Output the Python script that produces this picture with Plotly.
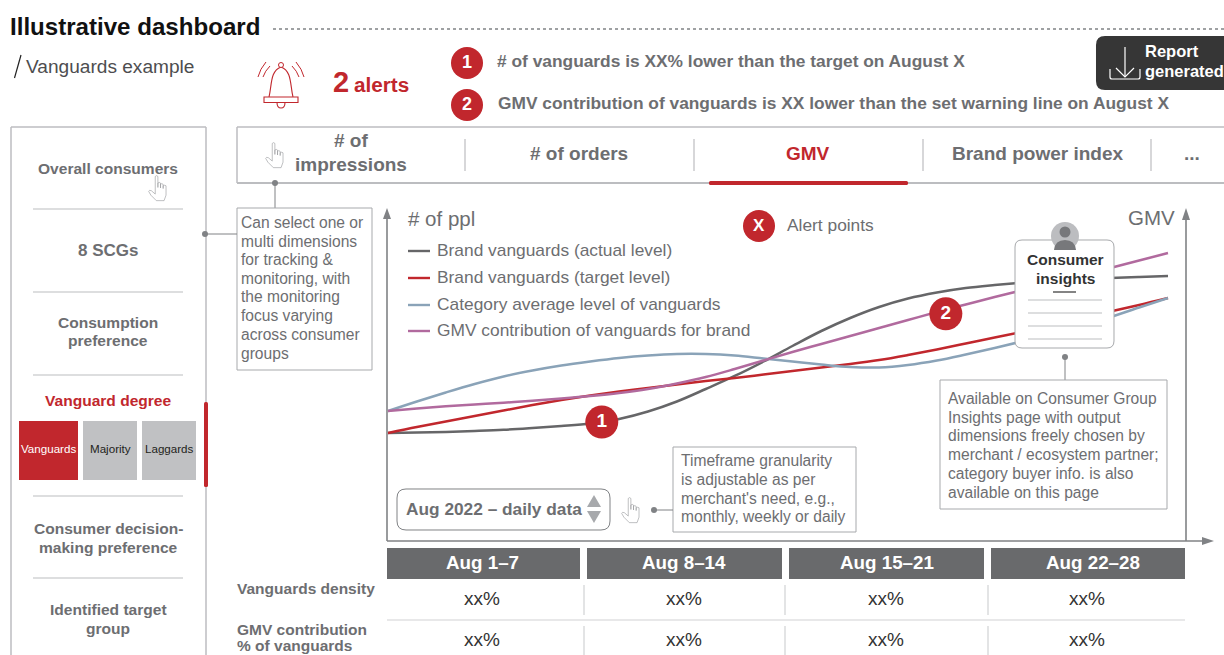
import plotly.graph_objects as go

# ---------- data ----------
days = list(range(1, 29))
actual_level = [32.14,32.26,32.44,32.74,33.10,33.63,34.23,34.97,36.31,38.54,41.52,45.24,49.11,53.42,58.04,62.5,66.37,69.64,72.17,73.96,75.3,76.19,76.93,77.53,77.98,78.27,78.57,78.87]
target_level = [32.14,33.93,35.57,37.2,38.84,40.48,41.96,43.3,44.49,45.54,46.58,47.62,48.51,49.55,50.6,51.64,52.68,53.87,55.36,57.0,58.78,60.57,62.35,64.29,66.22,68.3,70.24,72.32]
category_avg = [38.69,41.52,44.2,46.73,48.96,50.74,52.23,53.42,54.46,55.21,55.65,55.65,55.21,54.32,53.42,52.53,51.79,51.64,52.38,53.72,55.51,57.44,59.52,61.76,64.14,66.67,69.49,72.32]
gmv_contribution = [38.69,39.43,40.09,40.63,41.16,41.76,42.41,43.15,44.05,45.24,46.88,48.81,51.19,53.72,56.25,58.63,61.01,63.39,65.77,68.15,70.39,72.62,74.7,76.79,79.02,81.25,83.48,85.71]
alert_days = [8.4, 20.31]
alert_values = [35.4, 67.6]
alert_labels = ["1", "2"]

series_names = ["Brand vanguards (actual level)", "Brand vanguards (target level)",
                "Category average level of vanguards", "GMV contribution of vanguards for brand"]
week_labels = ["Aug 1–7", "Aug 8–14", "Aug 15–21", "Aug 22–28"]
row_labels = [["Vanguards density"], ["GMV contribution", "% of vanguards"]]
row_values = ["xx%", "xx%"]
tabs = ["# of orders", "GMV", "Brand power index", "..."]

W, H = 1224, 655
RED = "#c1272d"; GREY = "#6d6e71"; DARK = "#666668"; BLUE = "#8aa3b8"; PURPLE = "#b16a9e"
LINE = "#bcbdc0"; BOXLINE = "#a7a9ac"
FONT = "Liberation Sans"
series_colors = [DARK, RED, BLUE, PURPLE]

def X(x): return x / W
def Y(y): return 1 - y / H

shapes, annos = [], []

def text(x, y, s, size=15, color=GREY, bold=False, anchor="left", font=FONT):
    if anchor == "left":
        x -= 1
    y -= 0.8
    annos.append(dict(xref="paper", yref="paper", x=X(x), y=Y(y), text=("<b>%s</b>" % s) if bold else s,
                      showarrow=False, xanchor=anchor, yanchor="middle", align=anchor,
                      font=dict(family=font, size=size, color=color), borderpad=0))

def line(x0, y0, x1, y1, color=LINE, w=1.2, dash=None):
    d = dict(color=color, width=w)
    if dash: d["dash"] = dash
    shapes.append(dict(type="line", xref="paper", yref="paper", x0=X(x0), y0=Y(y0), x1=X(x1), y1=Y(y1), line=d))

def rect(x0, y0, x1, y1, fill="rgba(0,0,0,0)", color=None, w=1.2):
    shapes.append(dict(type="rect", xref="paper", yref="paper", x0=X(x0), y0=Y(y0), x1=X(x1), y1=Y(y1),
                       fillcolor=fill, line=dict(color=color or fill, width=w if color else 0)))

def circle(cx, cy, r, fill, color=None):
    shapes.append(dict(type="circle", xref="paper", yref="paper", x0=X(cx-r), y0=Y(cy-r), x1=X(cx+r), y1=Y(cy+r),
                       fillcolor=fill, line=dict(color=color or fill, width=0 if not color else 1)))

def path(cmds, fill="rgba(0,0,0,0)", color=None, w=1.0):
    out = []
    for c in cmds:
        if c[0] == "Z":
            out.append("Z"); continue
        pts = c[1:]
        coords = []
        for i in range(0, len(pts), 2):
            coords.append("%.5f,%.5f" % (X(pts[i]), Y(pts[i+1])))
        out.append(c[0] + " ".join(coords))
    shapes.append(dict(type="path", xref="paper", yref="paper", path=" ".join(out), fillcolor=fill,
                       line=dict(color=color or fill, width=w if color else 0)))

def rrect(x0, y0, x1, y1, r, fill, color=None, w=1.0):
    path([("M", x0+r, y0), ("L", x1-r, y0), ("Q", x1, y0, x1, y0+r), ("L", x1, y1-r), ("Q", x1, y1, x1-r, y1),
          ("L", x0+r, y1), ("Q", x0, y1, x0, y1-r), ("L", x0, y0+r), ("Q", x0, y0, x0+r, y0), ("Z",)], fill, color, w)

def hand(x, y, s=1.1):
    H_ = [("M",7,24),("L",2,19),("L",0,15.5),("Q",0.5,14,2.5,15),("L",6,18),("L",6,2),("Q",7.2,0.5,8.4,2),("L",8.4,12),
          ("L",8.4,8),("Q",9.6,6.8,10.8,8),("L",10.8,12.5),("L",10.8,9),("Q",12,8,13.2,9.2),("L",13.2,13),
          ("L",13.2,10.5),("Q",14.5,9.5,15.8,10.5),("L",15.8,19),("L",14,24),("Z",)]
    cmds = []
    for c in H_:
        if c[0] == "Z":
            cmds.append(c); continue
        p = [c[0]]
        for i in range(1, len(c), 2):
            p += [x + (c[i]-8.5)*s, y + (c[i+1]-12.5)*s]
        cmds.append(tuple(p))
    path(cmds, "#ffffff", "#939598", 0.6)

# ---------- header ----------
text(10, 27, "Illustrative dashboard", 24.1, "#111111", True)
line(273, 29, 1224, 29, "#808285", 1.6, "dot")
line(14.5, 78, 21, 55, "#222222", 1.2)
text(26, 67, "Vanguards example", 19.1, "#4d4d4f")

# bell
path([("M",269,97),("C",272,85,270,71,281,67),("C",292,71,290,85,293,97)], color=RED, w=1.1)
circle(281, 65, 2.5, "#ffffff", RED)
rect(264, 97, 298, 102.5, "#ffffff", RED, 1.1)
path([("M",277,102.5),("Q",277,108,281,108),("Q",285,108,285,102.5)], color=RED, w=1.1)
path([("M",266,62),("Q",260,69,258,77)], color=RED, w=1)
path([("M",270,66),("Q",265,71,263,77)], color=RED, w=1)
path([("M",296,62),("Q",302,69,304,77)], color=RED, w=1)
path([("M",292,66),("Q",297,71,299,77)], color=RED, w=1)

text(333, 83, "2", 29, RED, True)
text(354, 85, "alerts", 20.7, RED, True)

for cy, n in [(63, "1"), (105, "2")]:
    circle(467, cy, 16, RED)
    text(467, cy, n, 18, "#ffffff", True, "center")
text(497, 62, "# of vanguards is XX% lower than the target on August X", 17.35, GREY, True)
text(498, 104, "GMV contribution of vanguards is XX lower than the set warning line on August X", 17.35, GREY, True)

rrect(1096, 36, 1240, 90, 9, "#363636")
text(1145, 52, "Report", 16.5, "#ffffff", True)
text(1145, 72, "generated", 16.5, "#ffffff", True)
line(1125, 47, 1125, 76, "#ffffff", 1.2)
path([("M",1116,68),("L",1125,77),("L",1134,68)], color="#ffffff", w=1.2)
path([("M",1110,69),("L",1110,77),("Q",1110,79,1112,79),("L",1138,79),("Q",1140,79,1140,77),("L",1140,69)], color="#ffffff", w=1.2)

# ---------- left panel ----------
line(11, 127, 11, 655, LINE, 1.5)
line(11, 127, 206, 127, LINE, 1.5)
line(206, 127, 206, 655, LINE, 1.5)
rrect(204, 402, 208, 487, 1.5, RED)
for y in (209, 292, 375, 496, 578):
    line(33, y, 183, y, LINE, 1.2)
SIDE = 15.55
text(108, 169, "Overall consumers", SIDE, GREY, True, "center")
hand(158, 188)
text(108, 251, "8 SCGs", 17, GREY, True, "center")
text(108, 323, "Consumption", SIDE, GREY, True, "center")
text(108, 341, "preference", SIDE, GREY, True, "center")
text(108, 401, "Vanguard degree", SIDE, RED, True, "center")
rect(19, 421, 78, 480, RED)
rect(83, 421, 137, 480, "#c0c1c3")
rect(142, 421, 196, 480, "#c0c1c3")
text(48.5, 449.5, "Vanguards", 11.6, "#ffffff", False, "center")
text(110, 449.5, "Majority", 11.6, "#231f20", False, "center")
text(169, 449.5, "Laggards", 11.6, "#231f20", False, "center")
text(108, 529, "Consumer decision-", SIDE, GREY, True, "center")
text(108, 548, "making preference", SIDE, GREY, True, "center")
text(108, 610, "Identified target", SIDE, GREY, True, "center")
text(108, 629, "group", SIDE, GREY, True, "center")

# ---------- tab bar ----------
line(237, 127, 1224, 127, LINE, 1.5)
line(237, 127, 237, 183, LINE, 1.5)
line(237, 183, 1224, 183, LINE, 2)
for x in (465, 694, 923, 1151):
    line(x, 139, x, 171, LINE, 1.2)
text(351, 141, "# of", 19, GREY, True, "center")
text(351, 165, "impressions", 19, GREY, True, "center")
for cx, t in zip((579, 808, 1037, 1192), tabs):
    text(cx, 154, t, 19, RED if t == "GMV" else GREY, True, "center")
rrect(709, 181, 908, 185, 1.5, RED)
hand(275, 155)

# tooltip: dimensions
circle(275, 183, 3, "#808285")
line(275, 183, 275, 208, "#808285", 1)
rect(237, 208, 372, 370, "#ffffff", BOXLINE, 1)
circle(205, 234, 3, "#808285")
line(205, 234, 237, 234, "#808285", 1)
NOTE = 15.6
for y, t in zip((223, 242, 260, 279, 297, 316, 335, 354),
                ("Can select one or", "multi dimensions", "for tracking &", "monitoring, with",
                 "the monitoring", "focus varying", "across consumer", "groups")):
    text(241, y, t, NOTE, GREY)

# ---------- chart axes arrows ----------
AX = "#808285"
line(387, 541, 387, 215, AX, 1.6)
path([("M",383,219),("L",387,208),("L",391,219),("Z",)], AX)
line(387, 541, 1203, 541, AX, 1.6)
path([("M",1202,537),("L",1214,541),("L",1202,545),("Z",)], AX)
line(1186, 541, 1186, 218, AX, 1.6)
path([("M",1182,220),("L",1186,208),("L",1190,220),("Z",)], AX)

text(408, 219, "# of ppl", 20.5, GREY)
text(1128, 218, "GMV", 20.5, GREY)

# legend
for y, name, col in zip((251, 278, 305, 331), series_names, series_colors):
    line(408, y, 430, y, col, 2.4)
    text(437, y, name, 17.35, GREY)

circle(759, 226, 16, RED)
text(759, 226, "X", 17, "#ffffff", True, "center")
text(787, 226, "Alert points", 17.35, GREY)

# consumer insights card
rrect(1015, 240, 1114, 348, 7, "#ffffff", BOXLINE, 1)
circle(1065, 236, 14, "#bcbdc0")
circle(1065, 232, 5.5, "#77787b")
path([("M",1054,250),("Q",1055,240,1065,240),("Q",1075,240,1076,250),("Z",)], "#77787b")
text(1065, 260, "Consumer", 15.5, "#333333", True, "center")
text(1065, 279, "insights", 15.5, "#333333", True, "center")
line(1053, 292, 1076, 292, "#333333", 1.2)
for y in (300, 313, 326, 339):
    line(1028, y, 1102, y, LINE, 1.2)
circle(1065, 357, 3, "#808285")
line(1065, 357, 1065, 380, "#808285", 1)
rect(940, 380, 1167, 509, "#ffffff", BOXLINE, 1)
for y, t in zip((399, 418, 436, 455, 474, 493),
                ("Available on Consumer Group", "Insights page with output", "dimensions freely chosen by",
                 "merchant / ecosystem partner;", "category buyer info. is also", "available on this page")):
    text(948, y, t, NOTE, GREY)

# timeframe note
rect(673, 447, 856, 532, "#ffffff", BOXLINE, 1)
for y, t in zip((461, 480, 499, 517),
                ("Timeframe granularity", "is adjustable as per", "merchant's need, e.g.,", "monthly, weekly or daily")):
    text(681, y, t, NOTE, GREY)
circle(654, 510, 3, "#808285")
line(654, 510, 673, 510, "#808285", 1)
hand(631, 510)

# dropdown
rrect(397, 489, 610, 530, 9, "#ffffff", "#808285", 1)
text(406, 510, "Aug 2022 – daily data", 17.3, GREY, True)
path([("M",587,507),("L",594,495),("L",601,507),("Z",)], "#a7a9ac")
path([("M",587,511),("L",594,523),("L",601,511),("Z",)], "#a7a9ac")

# ---------- table ----------
cols = [(387, 580), (587, 782), (789, 984), (991, 1185)]
head_centers = [482.5, 684, 886.5, 1093]
val_centers = [482, 684, 886, 1087]
for (a, b), c, t in zip(cols, head_centers, week_labels):
    rect(a, 548, b, 579, "#696a6c")
    text(c, 563.5, t, 18.8, "#ffffff", True, "center")
line(387, 620, 1185, 620, "#d1d2d4", 1.2)
for x in (584, 785, 988):
    line(x, 585, x, 615, "#d1d2d4", 1.2)
    line(x, 626, x, 655, "#d1d2d4", 1.2)
for y, v in zip((599, 640), row_values):
    for c in val_centers:
        text(c, y, v, 19, "#333333", False, "center")
text(237, 589, row_labels[0][0], 15.5, GREY, True)
text(237, 630, row_labels[1][0], 15.5, GREY, True)
text(237, 646.5, row_labels[1][1], 15.5, GREY, True)

# ---------- traces ----------
fig = go.Figure()
for name, vals, col in zip(series_names, [actual_level, target_level, category_avg, gmv_contribution], series_colors):
    fig.add_trace(go.Scatter(x=days, y=vals, mode="lines", name=name,
                             line=dict(color=col, width=2.5, shape="spline", smoothing=1.0),
                             hoverinfo="name+x+y", showlegend=False))
fig.add_trace(go.Scatter(x=alert_days, y=alert_values, mode="markers+text", name="Alert points",
                         text=alert_labels, textposition="middle center",
                         textfont=dict(family=FONT, size=19, color="#ffffff", weight="bold"),
                         marker=dict(size=33, color=RED), showlegend=False, cliponaxis=False))

px_per_day = 780 / 27
fig.update_layout(
    width=W, height=H, autosize=False, margin=dict(l=0, r=0, t=0, b=0),
    paper_bgcolor="#ffffff", plot_bgcolor="rgba(0,0,0,0)", showlegend=False,
    xaxis=dict(domain=[X(387), X(1186)], range=[1 - 1 / px_per_day, 1 + 798 / px_per_day], visible=False, fixedrange=True),
    yaxis=dict(domain=[Y(541), Y(205)], range=[0, 100], visible=False, fixedrange=True),
    shapes=shapes, annotations=annos,
)
fig.write_html("out.html", config={"displayModeBar": False},
               post_script="document.body.style.margin='0';document.body.style.overflow='hidden';")
